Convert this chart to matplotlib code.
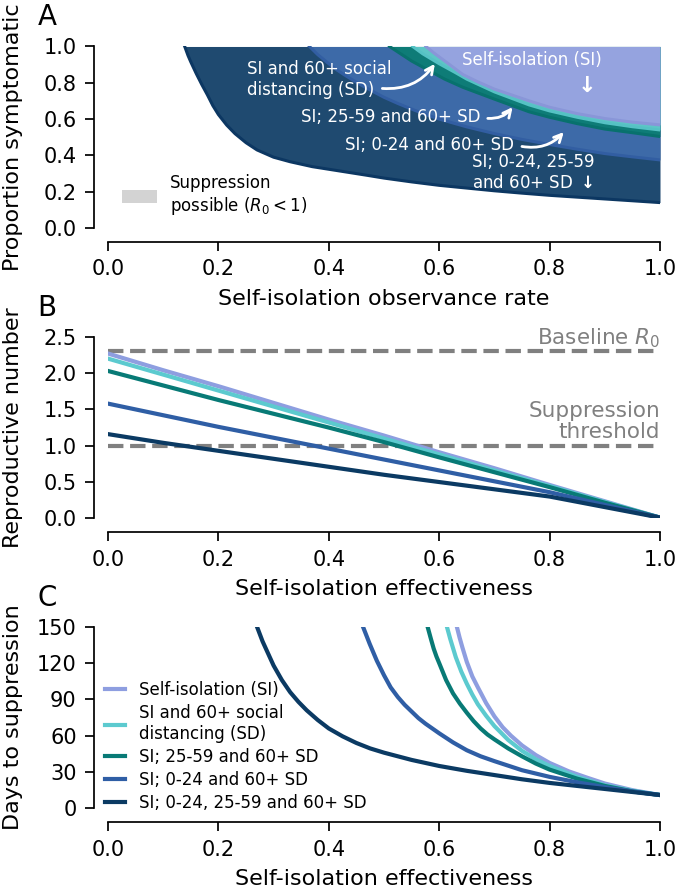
import matplotlib
matplotlib.use('Agg')
import matplotlib.pyplot as plt
from matplotlib.patches import Patch

plt.rcParams['font.family'] = ['DejaVu Sans']

# colours per strategy
c_si = '#8e9ee0'
c_si60 = '#5ccacf'
c_mid = '#087a76'
c_young = '#2f5ea5'
c_all = '#0b3a63'

fill_si = '#95a3df'
fill_si60 = '#5dc6c6'
fill_mid = '#0e7c77'
fill_young = '#3d6aa8'
fill_all = '#1f4a70'

labels = ['Self-isolation (SI)', 'SI and 60+ social\ndistancing (SD)',
          'SI; 25-59 and 60+ SD', 'SI; 0-24 and 60+ SD',
          'SI; 0-24, 25-59 and 60+ SD']

# Panel A: minimum proportion symptomatic for suppression vs observance rate
obs_all = [0.139, 0.145, 0.15, 0.16, 0.17, 0.18, 0.19, 0.20, 0.215, 0.23, 0.25, 0.27, 0.30, 0.33, 0.37,
           0.42, 0.47, 0.50, 0.55, 0.60, 0.65, 0.70, 0.75, 0.80, 0.85, 0.90, 0.95, 1.00]
sym_all = [1.0, 0.95, 0.915, 0.85, 0.79, 0.734, 0.674, 0.625, 0.567, 0.52, 0.47, 0.43, 0.39, 0.365, 0.338,
           0.314, 0.29, 0.275, 0.254, 0.235, 0.22, 0.205, 0.192, 0.18, 0.17, 0.16, 0.15, 0.14]
obs_young = [0.365, 0.37, 0.38, 0.39, 0.40, 0.415, 0.43, 0.445, 0.46, 0.48, 0.50, 0.525, 0.55, 0.575,
             0.60, 0.65, 0.70, 0.75, 0.80, 0.85, 0.90, 0.95, 1.0]
sym_young = [1.0, 0.985, 0.955, 0.93, 0.905, 0.87, 0.84, 0.812, 0.785, 0.752, 0.72, 0.686, 0.655, 0.626,
             0.60, 0.557, 0.52, 0.488, 0.46, 0.434, 0.41, 0.392, 0.375]
obs_mid = [0.51, 0.53, 0.55, 0.58, 0.61, 0.643, 0.70, 0.763, 0.80, 0.85, 0.90, 0.95, 1.0]
sym_mid = [1.0, 0.96, 0.92, 0.87, 0.82, 0.775, 0.71, 0.64, 0.61, 0.575, 0.545, 0.525, 0.504]
obs_si60 = [0.552, 0.57, 0.60, 0.63, 0.65, 0.70, 0.763, 0.80, 0.85, 0.90, 0.95, 1.0]
sym_si60 = [1.0, 0.96, 0.905, 0.855, 0.82, 0.75, 0.678, 0.645, 0.61, 0.58, 0.558, 0.54]
obs_si = [0.576, 0.59, 0.61, 0.643, 0.67, 0.70, 0.763, 0.80, 0.85, 0.90, 0.95, 1.0]
sym_si = [1.0, 0.965, 0.92, 0.845, 0.805, 0.765, 0.70, 0.665, 0.63, 0.603, 0.583, 0.568]

# Panel B: reproductive number vs self-isolation effectiveness
eff_b = [0.0, 0.1, 0.2, 0.3, 0.4, 0.5, 0.6, 0.7, 0.8, 0.9, 1.0]
r_si = [2.27, 2.04, 1.82, 1.59, 1.36, 1.14, 0.91, 0.69, 0.46, 0.235, 0.01]
r_si60 = [2.20, 1.98, 1.76, 1.54, 1.32, 1.10, 0.88, 0.66, 0.445, 0.225, 0.01]
r_mid = [2.03, 1.83, 1.63, 1.44, 1.25, 1.05, 0.84, 0.635, 0.43, 0.215, 0.01]
r_young = [1.58, 1.42, 1.26, 1.11, 0.96, 0.81, 0.66, 0.51, 0.36, 0.185, 0.01]
r_all = [1.16, 1.04, 0.93, 0.82, 0.71, 0.60, 0.50, 0.40, 0.30, 0.155, 0.01]
baseline_r0 = 2.3
threshold = 1.0

# Panel C: days to suppression vs self-isolation effectiveness
eff_c_all = [0.27, 0.28, 0.29, 0.30, 0.315, 0.33, 0.345, 0.36, 0.38, 0.40, 0.425, 0.45, 0.475, 0.50,
             0.55, 0.60, 0.65, 0.70, 0.75, 0.80, 0.85, 0.90, 0.95, 1.0]
days_all = [150, 138, 128, 118, 106, 96, 88, 81, 73, 66, 59.5, 54, 49.5, 46,
            40, 35, 31, 27.5, 24, 21, 18.5, 16, 13.5, 11]
eff_c_young = [0.462, 0.468, 0.474, 0.487, 0.50, 0.512, 0.525, 0.5375, 0.55, 0.5625, 0.575, 0.5875,
               0.60, 0.625, 0.65, 0.675, 0.70, 0.75, 0.80, 0.85, 0.90, 0.95, 1.0]
days_young = [150, 143, 136, 122, 110, 100, 92, 85.5, 80, 74.5, 70, 66,
              62, 54.5, 48, 43, 39, 31.5, 26, 21.5, 17.5, 14, 11]
eff_c_mid = [0.579, 0.585, 0.59, 0.595, 0.60, 0.6125, 0.625, 0.6375, 0.65, 0.6625, 0.675, 0.6875,
             0.70, 0.725, 0.75, 0.775, 0.80, 0.85, 0.90, 0.95, 1.0]
days_mid = [150, 140, 132, 125.5, 120, 106, 95, 86.5, 79, 72, 66, 61,
            57, 49.5, 43, 37, 32, 24.5, 18.5, 14, 11]
eff_c_si60 = [0.614, 0.62, 0.625, 0.63, 0.64, 0.65, 0.66, 0.67, 0.685, 0.70, 0.725, 0.75, 0.775,
              0.80, 0.85, 0.90, 0.95, 1.0]
days_si60 = [150, 140, 132.5, 125, 113, 103, 94, 86, 76.5, 68, 56.5, 47.5, 40.5,
             35, 26, 19, 14.5, 11]
eff_c_si = [0.632, 0.637, 0.642, 0.65, 0.66, 0.67, 0.685, 0.70, 0.715, 0.73, 0.75, 0.775, 0.80,
            0.835, 0.87, 0.90, 0.95, 1.0]
days_si = [150, 141, 133, 121, 109, 100, 87, 76, 67, 60, 52, 44, 37.5,
           30.5, 25, 20.5, 15, 11]

fig = plt.figure(figsize=(6.77, 8.92), dpi=100)
left, width, height = 0.1595, 0.8154, 0.2035
axA = fig.add_axes([left, 0.7444, width, height])
axB = fig.add_axes([left, 0.4189, width, height])
axC = fig.add_axes([left, 0.0938, width, height])

for ax in (axA, axB, axC):
    ax.spines['top'].set_visible(False)
    ax.spines['right'].set_visible(False)
    ax.spines['left'].set_position(('outward', 10))
    ax.spines['bottom'].set_position(('outward', 10))
    ax.spines['left'].set_linewidth(1.25)
    ax.spines['bottom'].set_linewidth(1.25)
    ax.tick_params(labelsize=15, length=6.5, width=1.25, pad=6)
    ax.set_xlim(0, 1)
    ax.set_xticks([0, 0.2, 0.4, 0.6, 0.8, 1.0])

# ---- A
regions = [(obs_all, sym_all, fill_all, '#0c3762'),
           (obs_young, sym_young, fill_young, '#325ea2'),
           (obs_mid, sym_mid, fill_mid, '#08716d'),
           (obs_si60, sym_si60, fill_si60, '#55c2c4'),
           (obs_si, sym_si, fill_si, '#8996d8')]
for x, y, fc, ec in regions:
    axA.fill_between(x, y, 1.0, color=fc, lw=0)
    axA.plot(x, y, color=ec, lw=2.2)
axA.set_ylim(0, 1)
axA.set_yticks([0, 0.2, 0.4, 0.6, 0.8, 1.0])
axA.set_xlabel('Self-isolation observance rate', fontsize=16)
axA.set_ylabel('Proportion symptomatic', fontsize=16)

tw = dict(color='white', fontsize=12)
axA.text(0.768, 0.926, 'Self-isolation (SI)', ha='center', va='center', **tw)
axA.text(0.868, 0.78, '↓', ha='center', va='center', color='white', fontsize=16, fontweight='bold')
axA.text(0.251, 0.816, 'SI and 60+ social\ndistancing (SD)', ha='left', va='center', **tw)
axA.text(0.675, 0.614, 'SI; 25-59 and 60+ SD', ha='right', va='center', **tw)
axA.text(0.735, 0.458, 'SI; 0-24 and 60+ SD', ha='right', va='center', **tw)
axA.text(0.66, 0.306, 'SI; 0-24, 25-59\nand 60+ SD $\\mathbf{\\downarrow}$', ha='left', va='center', **tw)

arr = dict(arrowstyle='->', color='white', lw=2, connectionstyle='arc3,rad=0.3', mutation_scale=14)
axA.annotate('', xy=(0.595, 0.917), xytext=(0.492, 0.77), arrowprops=arr)
axA.annotate('', xy=(0.736, 0.678), xytext=(0.683, 0.605), arrowprops=arr)
axA.annotate('', xy=(0.829, 0.54), xytext=(0.745, 0.452), arrowprops=arr)

axA.legend(handles=[Patch(facecolor='lightgray', edgecolor='none')],
           labels=['Suppression\npossible ($R_0 < 1$)'], loc='center left',
           bbox_to_anchor=(0.025, 0.18), frameon=False, fontsize=12,
           handlelength=2.1, handleheight=0.9, handletextpad=0.8, borderpad=0, borderaxespad=0)

# ---- B
axB.axhline(baseline_r0, color='gray', ls='--', lw=3)
axB.axhline(threshold, color='gray', ls='--', lw=3)
for r, c in zip([r_si, r_si60, r_mid, r_young, r_all], [c_si, c_si60, c_mid, c_young, c_all]):
    axB.plot(eff_b, r, color=c, lw=3)
axB.set_ylim(0, 2.5)
axB.set_yticks([0, 0.5, 1.0, 1.5, 2.0, 2.5])
axB.set_xlabel('Self-isolation effectiveness', fontsize=16)
axB.set_ylabel('Reproductive number', fontsize=16)
axB.text(1.0, 2.478, 'Baseline $R_0$', ha='right', va='center', color='gray', fontsize=15.5)
axB.text(1.0, 1.334, 'Suppression\nthreshold', ha='right', va='center', color='gray',
         fontsize=15.5, linespacing=1.05, multialignment='right')

# ---- C
series_c = [(eff_c_si, days_si, c_si), (eff_c_si60, days_si60, c_si60),
            (eff_c_mid, days_mid, c_mid), (eff_c_young, days_young, c_young),
            (eff_c_all, days_all, c_all)]
for (x, d, c), lab in zip(series_c, labels):
    axC.plot(x, d, color=c, lw=3, label=lab)
axC.set_ylim(0, 150)
axC.set_yticks([0, 30, 60, 90, 120, 150])
axC.set_xlabel('Self-isolation effectiveness', fontsize=16)
axC.set_ylabel('Days to suppression', fontsize=16)
axC.legend(loc='lower left', bbox_to_anchor=(-0.005, -0.02), frameon=False, fontsize=12,
           handlelength=1.2, handletextpad=0.8, labelspacing=0.3, borderpad=0, borderaxespad=0)

for ax in (axA, axB, axC):
    ax.yaxis.set_label_coords(-0.172, 0.5)
    ax.xaxis.set_label_coords(0.5, -0.39)
    ax.xaxis.label.set_va('center')
    ax.yaxis.label.set_va('center')

for ax, letter in zip((axA, axB, axC), 'ABC'):
    bb = ax.get_position()
    fig.text(47 / 677, bb.y1 + 29 / 892, letter, fontsize=20, ha='center', va='center')

fig.savefig('out.png', dpi=100)
